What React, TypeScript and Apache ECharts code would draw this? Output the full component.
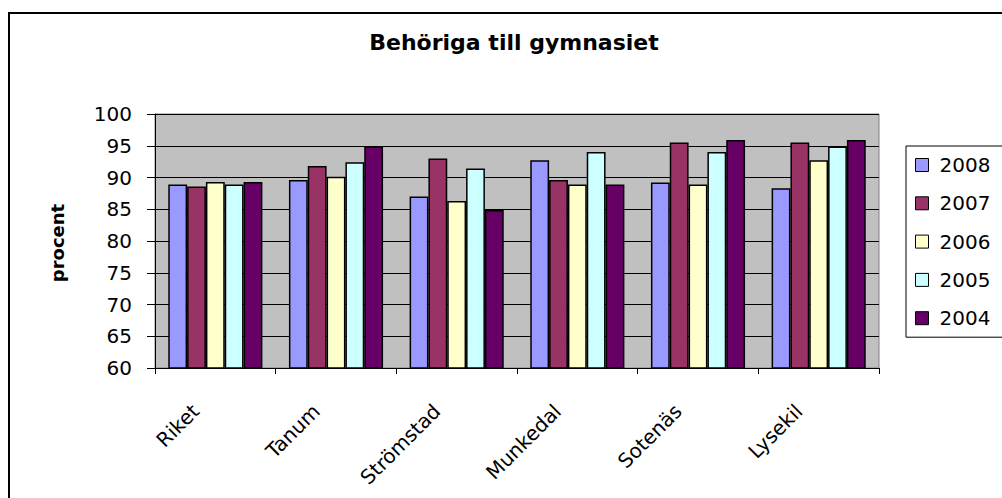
import React, { useEffect, useRef } from "react";
import * as echarts from "echarts";

const categories = ["Riket", "Tanum", "Strömstad", "Munkedal", "Sotenäs", "Lysekil"];
const years = ["2008", "2007", "2006", "2005", "2004"];
const v2008 = [88.9, 89.6, 87.0, 92.7, 89.2, 88.3];
const v2007 = [88.6, 91.8, 93.0, 89.6, 95.5, 95.5];
const v2006 = [89.3, 90.1, 86.3, 88.9, 88.9, 92.7];
const v2005 = [88.9, 92.4, 91.4, 94.0, 94.0, 94.9];
const v2004 = [89.3, 94.9, 84.9, 88.9, 95.9, 95.9];
const seriesValues = [v2008, v2007, v2006, v2005, v2004];
const colors = ["#9999FF", "#993366", "#FFFFCC", "#CCFFFF", "#660066"];

const FONT = "'DejaVu Sans', 'Liberation Sans', Arial, sans-serif";

export default function App() {
  const ref = useRef<HTMLDivElement>(null);
  useEffect(() => {
    if (!ref.current) return;
    const chart = echarts.init(ref.current, null, { renderer: "svg" });
    chart.setOption({
      animation: false,
      backgroundColor: "#ffffff",
      textStyle: { fontFamily: FONT },
      graphic: [
        {
          type: "rect",
          shape: { x: 9, y: 13, width: 1200, height: 700 },
          style: { fill: "none", stroke: "#000", lineWidth: 2 },
          silent: true,
          z: 0,
        },
        {
          type: "text",
          x: 514,
          y: 42,
          style: {
            text: "Behöriga till gymnasiet",
            font: `bold 22px ${FONT}`,
            fill: "#000",
            align: "center",
            verticalAlign: "middle",
          },
        },
        {
          type: "text",
          x: 57,
          y: 243,
          rotation: Math.PI / 2,
          style: {
            text: "procent",
            font: `bold 18px ${FONT}`,
            fill: "#000",
            align: "center",
            verticalAlign: "middle",
          },
        },
      ],
      grid: {
        left: 155,
        right: 123,
        top: 114,
        bottom: 130,
        show: true,
        backgroundColor: "#C0C0C0",
        borderColor: "#808080",
        borderWidth: 1,
        containLabel: false,
      },
      legend: {
        orient: "vertical",
        left: 906,
        top: 146,
        padding: [9, 40, 9, 9],
        borderColor: "#000",
        borderWidth: 1,
        itemWidth: 13,
        itemHeight: 13,
        itemGap: 18.3,
        icon: "rect",
        itemStyle: { borderColor: "#000", borderWidth: 1 },
        textStyle: { fontSize: 20, color: "#000", fontFamily: FONT, lineHeight: 20, padding: [0, 0, 0, 6] },
        data: years,
      },
      xAxis: {
        type: "category",
        data: categories,
        axisLine: { lineStyle: { color: "#000", width: 1 } },
        axisTick: { show: true, length: 6, lineStyle: { color: "#000" } },
        axisLabel: {
          rotate: 45,
          fontSize: 20,
          color: "#000",
          fontFamily: FONT,
          margin: 20,
          padding: [0, 28, 0, 0],
          interval: 0,
        },
      },
      yAxis: {
        type: "value",
        min: 60,
        max: 100,
        interval: 5,
        axisLine: { show: true, lineStyle: { color: "#000", width: 1 } },
        axisTick: { show: true, length: 8, lineStyle: { color: "#000" } },
        axisLabel: { fontSize: 20, color: "#000", fontFamily: FONT, margin: 23 },
        splitLine: { show: true, lineStyle: { color: "#000", width: 1 } },
      },
      series: years.map((y, i) => ({
        name: y,
        type: "bar",
        data: seriesValues[i],
        barGap: "0%",
        barCategoryGap: "22%",
        itemStyle: { color: colors[i], borderColor: "#000", borderWidth: 1.5 },
      })),
    });
    return () => chart.dispose();
  }, []);
  return (
    <div
      ref={ref}
      style={{ position: "absolute", left: 0, top: 0, width: 1002, height: 498 }}
    />
  );
}
